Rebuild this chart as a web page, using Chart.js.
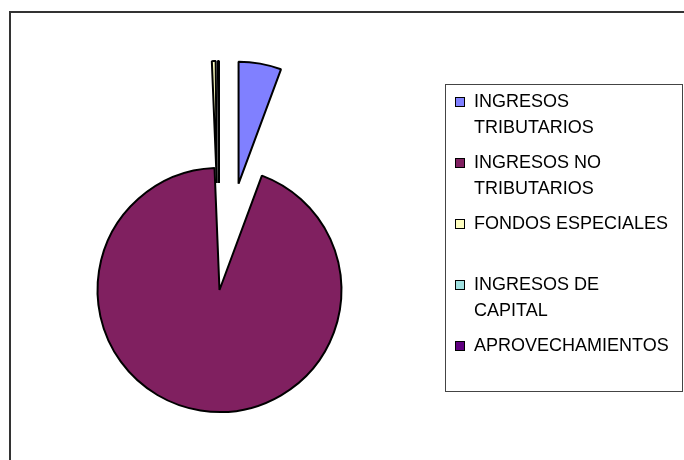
<!DOCTYPE html>
<html>
<head>
<meta charset="utf-8">
<script src="https://cdn.jsdelivr.net/npm/chart.js@4"></script>
<style>
  body { margin: 0; background: #fff; }
  #wrap { position: relative; width: 684px; height: 460px; overflow: hidden; }
  #frame { position: absolute; left: 9px; top: 11px; right: -10px; bottom: -10px;
           border-left: 2px solid #333; border-top: 2px solid #333; }
  canvas { position: absolute; left: 0; top: 0; }
  #legend { position: absolute; left: 445px; top: 84px; width: 236px; height: 306px;
            border: 1px solid #444; font-family: "Liberation Sans", Arial, sans-serif;
            font-size: 18px; color: #000; }
  .item { position: absolute; left: 0; width: 236px; }
  .box { position: absolute; left: 9px; top: 8px; width: 10px; height: 10px;
         border: 1.5px solid #000; box-sizing: border-box; }
  .txt { position: absolute; left: 28px; top: 0; width: 206px; line-height: 25.5px; white-space: nowrap; }
</style>
</head>
<body>
<div id="wrap">
  <div id="frame"></div>
  <canvas id="myChart" width="684" height="460"></canvas>
  <div id="legend"></div>
</div>
<script>
let categories = [['INGRESOS', 'TRIBUTARIOS'], ['INGRESOS NO', 'TRIBUTARIOS'], ['FONDOS ESPECIALES'], ['INGRESOS DE', 'CAPITAL'], ['APROVECHAMIENTOS']];
let shares = [5.65, 93.7, 0.5, 0, 0.15];
let colors = ['#8080FF', '#802060', '#FFFFC0', '#A0E0E0', '#600080'];

// pull some slices out of the pie, like the exploded slices in the original
let explodePlugin = {
    id: 'explode',
    beforeDatasetsDraw(chart, args, opts) {
        chart.getDatasetMeta(0).data.forEach((arc, i) => {
            let d = opts.distance[i] || 0;
            let mid = (arc.startAngle + arc.endAngle) / 2;
            arc._dx = Math.cos(mid) * d;
            arc._dy = Math.sin(mid) * d;
            arc.x += arc._dx;
            arc.y += arc._dy;
        });
    },
    afterDatasetsDraw(chart) {
        chart.getDatasetMeta(0).data.forEach(arc => {
            arc.x -= arc._dx;
            arc.y -= arc._dy;
        });
    }
};

let myChart = document.getElementById("myChart").getContext('2d');

let chart1 = new Chart(myChart, {
    type: 'pie',
    data: {
        labels: categories,
        datasets: [ {
            data: shares,
            backgroundColor: colors,
            borderColor: '#000',
            borderWidth: 2,
            radius: 122
        }]
    },
    options: {
        responsive: false,
        animation: false,
        events: [],
        layout: {
            padding: { left: 0, right: 245, top: 120, bottom: 0 }
        },
        plugins: {
            legend: { display: false },
            tooltip: { enabled: false },
            explode: { distance: [108, 0, 107, 107, 107] }
        }
    },
    plugins: [explodePlugin]
});

// legend box built from the same arrays
let legend = document.getElementById('legend');
categories.forEach((lines, i) => {
    let item = document.createElement('div');
    item.className = 'item';
    item.style.top = (4 + i * 61) + 'px';
    let box = document.createElement('div');
    box.className = 'box';
    box.style.background = colors[i];
    let txt = document.createElement('div');
    txt.className = 'txt';
    txt.innerHTML = lines.join('<br>');
    item.appendChild(box);
    item.appendChild(txt);
    legend.appendChild(item);
});
</script>
</body>
</html>
